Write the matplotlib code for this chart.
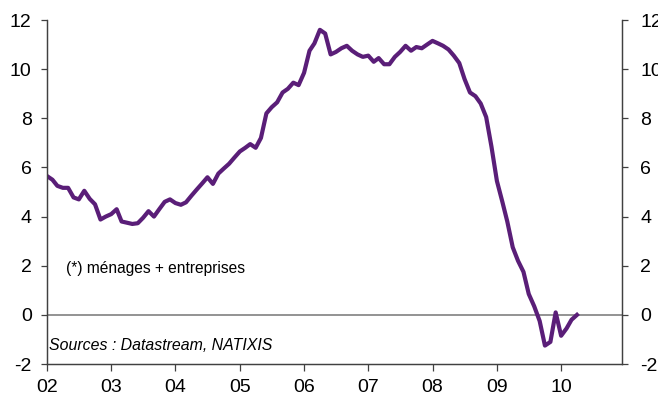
import numpy as np
import pandas as pd
import matplotlib
matplotlib.use("Agg")
import matplotlib.pyplot as plt

# monthly values, Jan 2002 - Apr 2010
values = [
    5.65, 5.50, 5.25, 5.17, 5.17, 4.78, 4.70, 5.05, 4.72, 4.50, 3.88, 4.00,
    4.10, 4.30, 3.80, 3.75, 3.70, 3.73, 3.95, 4.22, 4.00, 4.30, 4.60, 4.70,
    4.55, 4.48, 4.58, 4.85, 5.10, 5.35, 5.60, 5.33, 5.75, 5.95, 6.15, 6.40,
    6.65, 6.80, 6.95, 6.80, 7.20, 8.20, 8.45, 8.65, 9.05, 9.20, 9.45, 9.35,
    9.85, 10.75, 11.05, 11.60, 11.45, 10.60, 10.70, 10.85, 10.95, 10.75, 10.60, 10.50,
    10.55, 10.30, 10.45, 10.20, 10.20, 10.50, 10.70, 10.95, 10.75, 10.90, 10.85, 11.00,
    11.15, 11.05, 10.95, 10.80, 10.55, 10.25, 9.60, 9.05, 8.90, 8.60, 8.05, 6.85,
    5.45, 4.60, 3.80, 2.75, 2.20, 1.75, 0.85, 0.35, -0.25, -1.25, -1.10, 0.10,
    -0.85, -0.55, -0.20, 0.00,
]
dates = pd.date_range("2002-01-01", periods=len(values), freq="MS")

year_ticks = pd.date_range("2002-01-01", "2010-01-01", freq="YS")
year_labels = ["02", "03", "04", "05", "06", "07", "08", "09", "10"]
y_ticks = [-2, 0, 2, 4, 6, 8, 10, 12]

plt.rcParams["font.family"] = ["Liberation Sans", "DejaVu Sans"]
plt.rcParams["axes.unicode_minus"] = False
axis_col = "#404040"

fig = plt.figure(figsize=(6.58, 4.05), dpi=100)
ax = fig.add_axes([0.0714, 0.1012, 0.8739, 0.8494])

ax.axhline(0, color="#808080", lw=1.2, zorder=1)
ax.plot(dates, values, color="#5a1e78", lw=3.0, solid_joinstyle="round", zorder=3)

ax.set_ylim(-2, 12)
ax.set_xlim(pd.Timestamp("2002-01-01"), pd.Timestamp("2010-12-13"))
ax.set_yticks(y_ticks)
ax.set_xticks(year_ticks)
ax.set_xticklabels(year_labels)

# right-hand axis, same scale
ax2 = ax.twinx()
ax2.set_ylim(-2, 12)
ax2.set_yticks(y_ticks)

for a in (ax, ax2):
    for s in ["left", "right", "bottom"]:
        a.spines[s].set_color(axis_col)
        a.spines[s].set_linewidth(0.9)
    a.spines["top"].set_visible(False)

ax.tick_params(axis="y", direction="out", length=4, width=0.9,
               color=axis_col, labelsize=14, pad=7)
ax2.tick_params(axis="y", direction="out", length=4, width=0.9,
                color=axis_col, labelsize=14, pad=9)
ax.tick_params(axis="x", direction="out", length=5, width=0.9,
               color=axis_col, labelsize=14, pad=6)

ax.text(0.033, 0.279, "(*) ménages + entreprises", transform=ax.transAxes,
        fontsize=11.2, va="center", ha="left")
ax.text(0.003, 0.055, "Sources : Datastream, NATIXIS", transform=ax.transAxes,
        fontsize=11.4, style="italic", va="center", ha="left")

fig.savefig("out.png", dpi=100)
